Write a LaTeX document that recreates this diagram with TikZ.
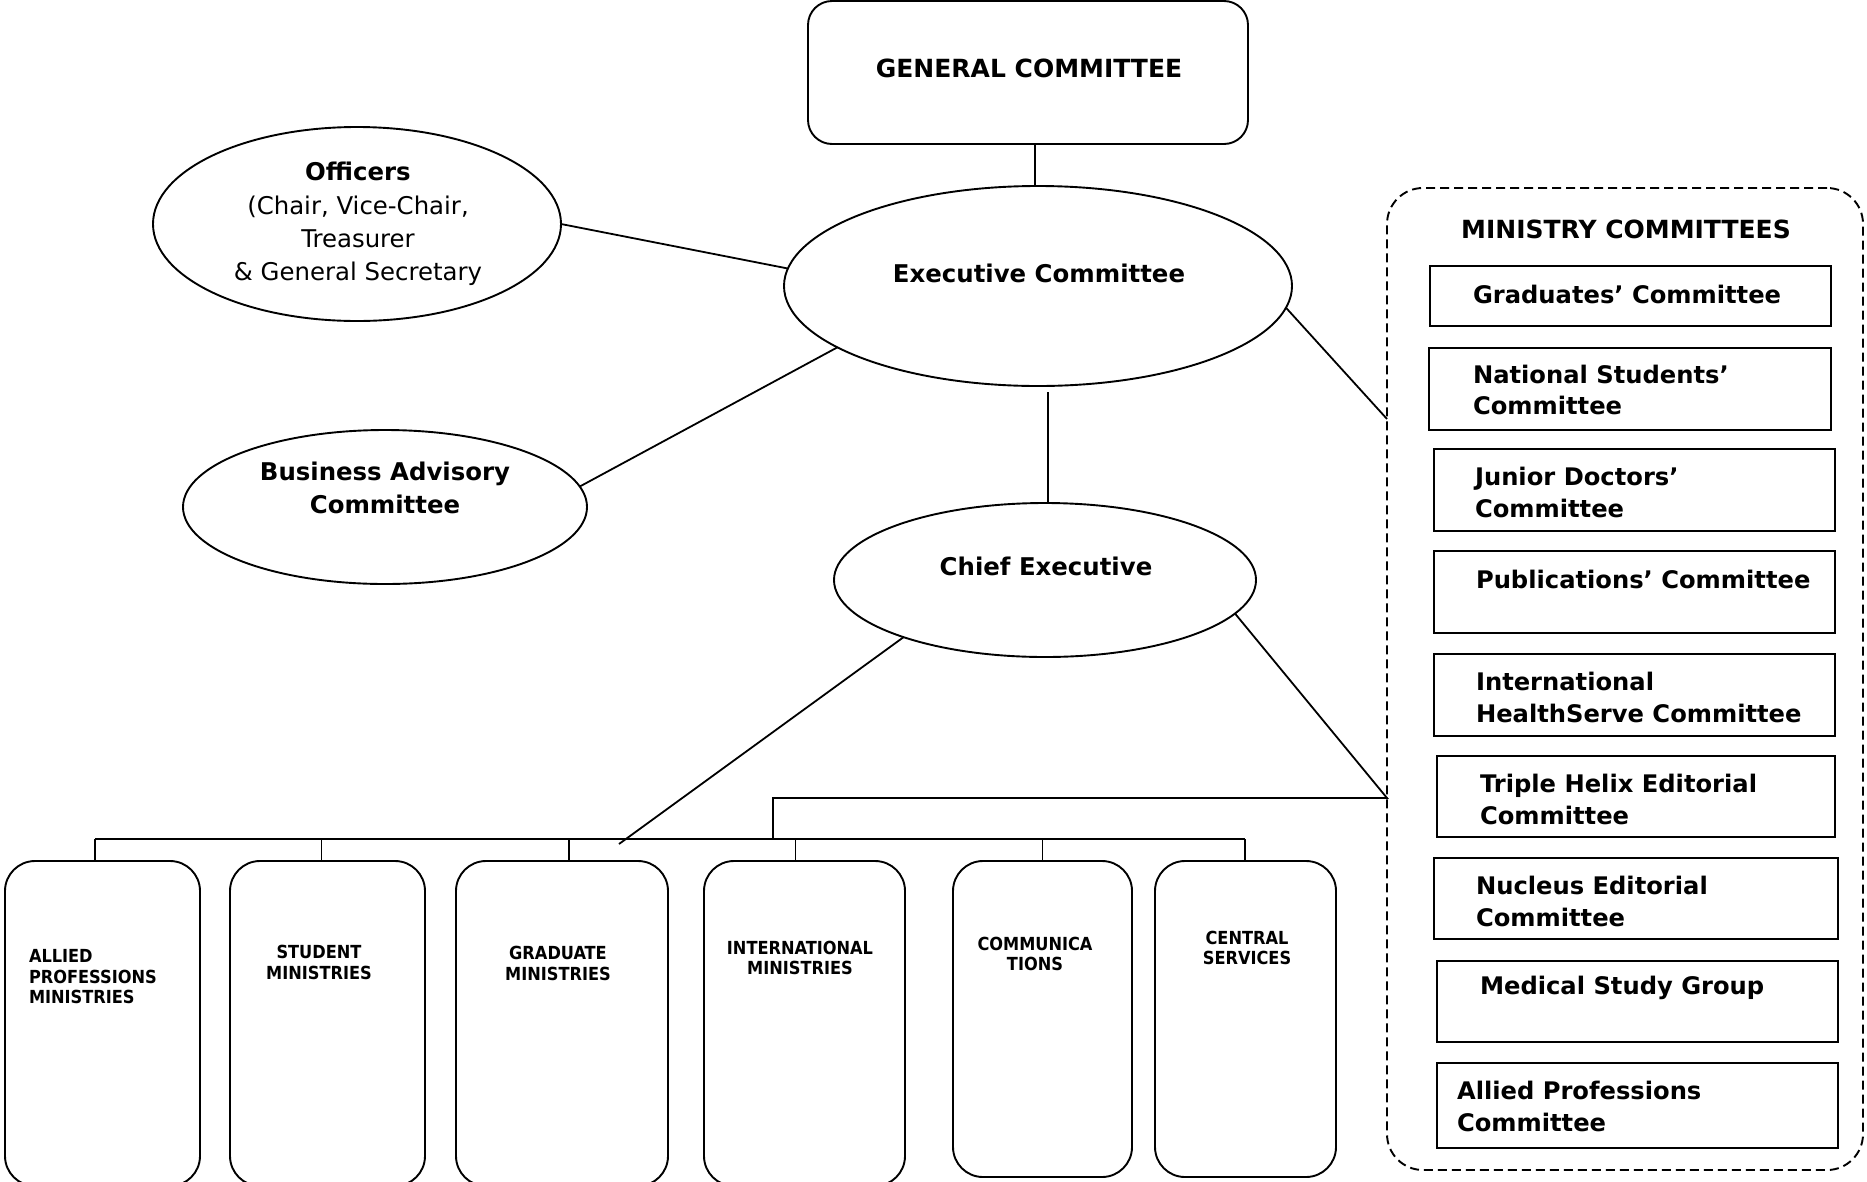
\documentclass[tikz,border=0pt]{standalone}
\usepackage{fontspec}
\setmainfont{DejaVu Sans}
\newfontfamily\condfont{DejaVu Sans Condensed}
\usetikzlibrary{shapes.geometric,calc}
\tikzset{
  every node/.style={inner sep=0pt, outer sep=0pt},
  conn/.style={line width=1.8pt},
  ell/.style={ellipse, draw, line width=1.9pt},
  gcbox/.style={rectangle, draw, rounded corners=24pt, line width=1.9pt},
  minbox/.style={rectangle, draw, rounded corners=30pt, line width=1.9pt},
  cbox/.style={rectangle, draw, line width=1.9pt},
  dashbox/.style={rectangle, draw, rounded corners=36pt, line width=1.9pt, dash pattern=on 9pt off 5pt},
  bigb/.style={font=\fontsize{24.4}{33}\selectfont\bfseries},
  bigr/.style={font=\fontsize{24.4}{33.3}\selectfont},
  ctxt/.style={font=\fontsize{24.2}{31.5}\selectfont\bfseries, align=left, anchor=west},
  smallb/.style={font=\condfont\bfseries\fontsize{18}{20.5}\selectfont, align=center}
}
\begin{document}
\begin{tikzpicture}[x=1pt,y=-1pt]
\useasboundingbox (0,0) rectangle (1867,1181);
% top
\node[gcbox, minimum width=440pt, minimum height=143pt] (gc) at (1028,72.5) {};
\node[bigb, font=\fontsize{25}{33}\selectfont\bfseries] (gct) at (1029,68) {GENERAL COMMITTEE};
\node[ell, minimum width=508pt, minimum height=200pt] (exec) at (1038,286) {};
\node[bigb] (exect) at (1039,273) {Executive Committee};
\node[ell, minimum width=408pt, minimum height=194pt] (off) at (357,224) {};
\node[bigr, align=center] (offt) at (358,224) {\textbf{Officers}\\(Chair, Vice-Chair,\\Treasurer\\\& General Secretary};
\node[ell, minimum width=404pt, minimum height=154pt] (ba) at (385,507) {};
\node[bigb, align=center] (bat) at (385,488) {Business Advisory\\Committee};
\node[ell, minimum width=422pt, minimum height=154pt] (chief) at (1045,580) {};
\node[bigb] (chieft) at (1046,566) {Chief Executive};
% ministry committees container
\node[dashbox, minimum width=476pt, minimum height=982pt] (mc) at (1625,679) {};
\node[bigb, font=\fontsize{25}{33}\selectfont\bfseries] (mct) at (1626,229) {MINISTRY COMMITTEES};
\node[cbox, minimum width=401pt, minimum height=60pt] (c1) at (1630.5,296) {};
\node[ctxt] (c1t) at (1473,294) {Graduates’ Committee};
\node[cbox, minimum width=402pt, minimum height=82pt] (c2) at (1630,389) {};
\node[ctxt] (c2t) at (1473,390) {National Students’\\Committee};
\node[cbox, minimum width=401pt, minimum height=82pt] (c3) at (1634.5,490) {};
\node[ctxt] (c3t) at (1475,492.5) {Junior Doctors’\\Committee};
\node[cbox, minimum width=401pt, minimum height=82pt] (c4) at (1634.5,592) {};
\node[ctxt] (c4t) at (1476,579) {Publications’ Committee};
\node[cbox, minimum width=401pt, minimum height=82pt] (c5) at (1634.5,695) {};
\node[ctxt] (c5t) at (1476,697.5) {International\\HealthServe Committee};
\node[cbox, minimum width=398pt, minimum height=81pt] (c6) at (1636,796.5) {};
\node[ctxt] (c6t) at (1480,799.5) {Triple Helix Editorial\\Committee};
\node[cbox, minimum width=404pt, minimum height=81pt] (c7) at (1636,898.5) {};
\node[ctxt] (c7t) at (1476,901.5) {Nucleus Editorial\\Committee};
\node[cbox, minimum width=401pt, minimum height=81pt] (c8) at (1637.5,1001.5) {};
\node[ctxt] (c8t) at (1480,988) {Medical Study Group};
\node[cbox, minimum width=401pt, minimum height=85pt] (c9) at (1637.5,1105.5) {};
\node[ctxt] (c9t) at (1457,1106.5) {Allied Professions\\Committee};
% bottom ministries
\node[minbox, minimum width=195pt, minimum height=325pt, anchor=north] (apm) at (102.5,861) {};
\node[smallb, align=left, anchor=west] (apmt) at (29,977) {ALLIED\\PROFESSIONS\\MINISTRIES};
\node[minbox, minimum width=195pt, minimum height=325pt, anchor=north] (stm) at (327.5,861) {};
\node[smallb] (stmt) at (319,962.5) {STUDENT\\MINISTRIES};
\node[minbox, minimum width=212pt, minimum height=325pt, anchor=north] (grm) at (562,861) {};
\node[smallb] (grmt) at (558,963.5) {GRADUATE\\MINISTRIES};
\node[minbox, minimum width=201pt, minimum height=325pt, anchor=north] (inm) at (804.5,861) {};
\node[smallb] (inmt) at (800,958) {INTERNATIONAL\\MINISTRIES};
\node[minbox, minimum width=179pt, minimum height=316pt, anchor=north] (com) at (1042.5,861) {};
\node[smallb] (comt) at (1035,954) {COMMUNICA\\TIONS};
\node[minbox, minimum width=181pt, minimum height=316pt, anchor=north] (cen) at (1245.5,861) {};
\node[smallb] (cent) at (1247,948) {CENTRAL\\SERVICES};
% coordinates
\coordinate (busL) at (95,839);
\coordinate (busR) at (1245,839);
\coordinate (cg) at (619,844);
\coordinate (mcA) at (1387,419);
\coordinate (mcB) at (1387,798);
\coordinate (turn) at (773,798);
% connectors
\draw[conn] (exec.north |- gc.south) ++(-3,0) -- ++(0,42);
\draw[conn] (off.east) -- (exec.176);
\draw[conn] (ba.6) -- (exec.197);
\draw[conn] ([xshift=3pt]chief.north |- exec.south) ++(0,6) -- ([xshift=3pt]chief.north);
\draw[conn] (exec.355) -- (mcA);
\draw[conn] (chief.202) -- (cg);
\draw[conn] (chief.350) -- (mcB) -- (turn) -- (turn |- busL);
\draw[conn] (busL) -- (busR);
\draw[conn] (busL) -- (busL |- apm.north);
\draw[conn] (stm.north |- busL) ++(-6,0) -- ++(0,22);
\draw[conn] (grm.north |- busL) ++(7,0) -- ++(0,22);
\draw[conn] (inm.north |- busL) ++(-9,0) -- ++(0,22);
\draw[conn] (com.north |- busL) -- (com.north);
\draw[conn] (busR) -- (busR |- cen.north);
\end{tikzpicture}
\end{document}
